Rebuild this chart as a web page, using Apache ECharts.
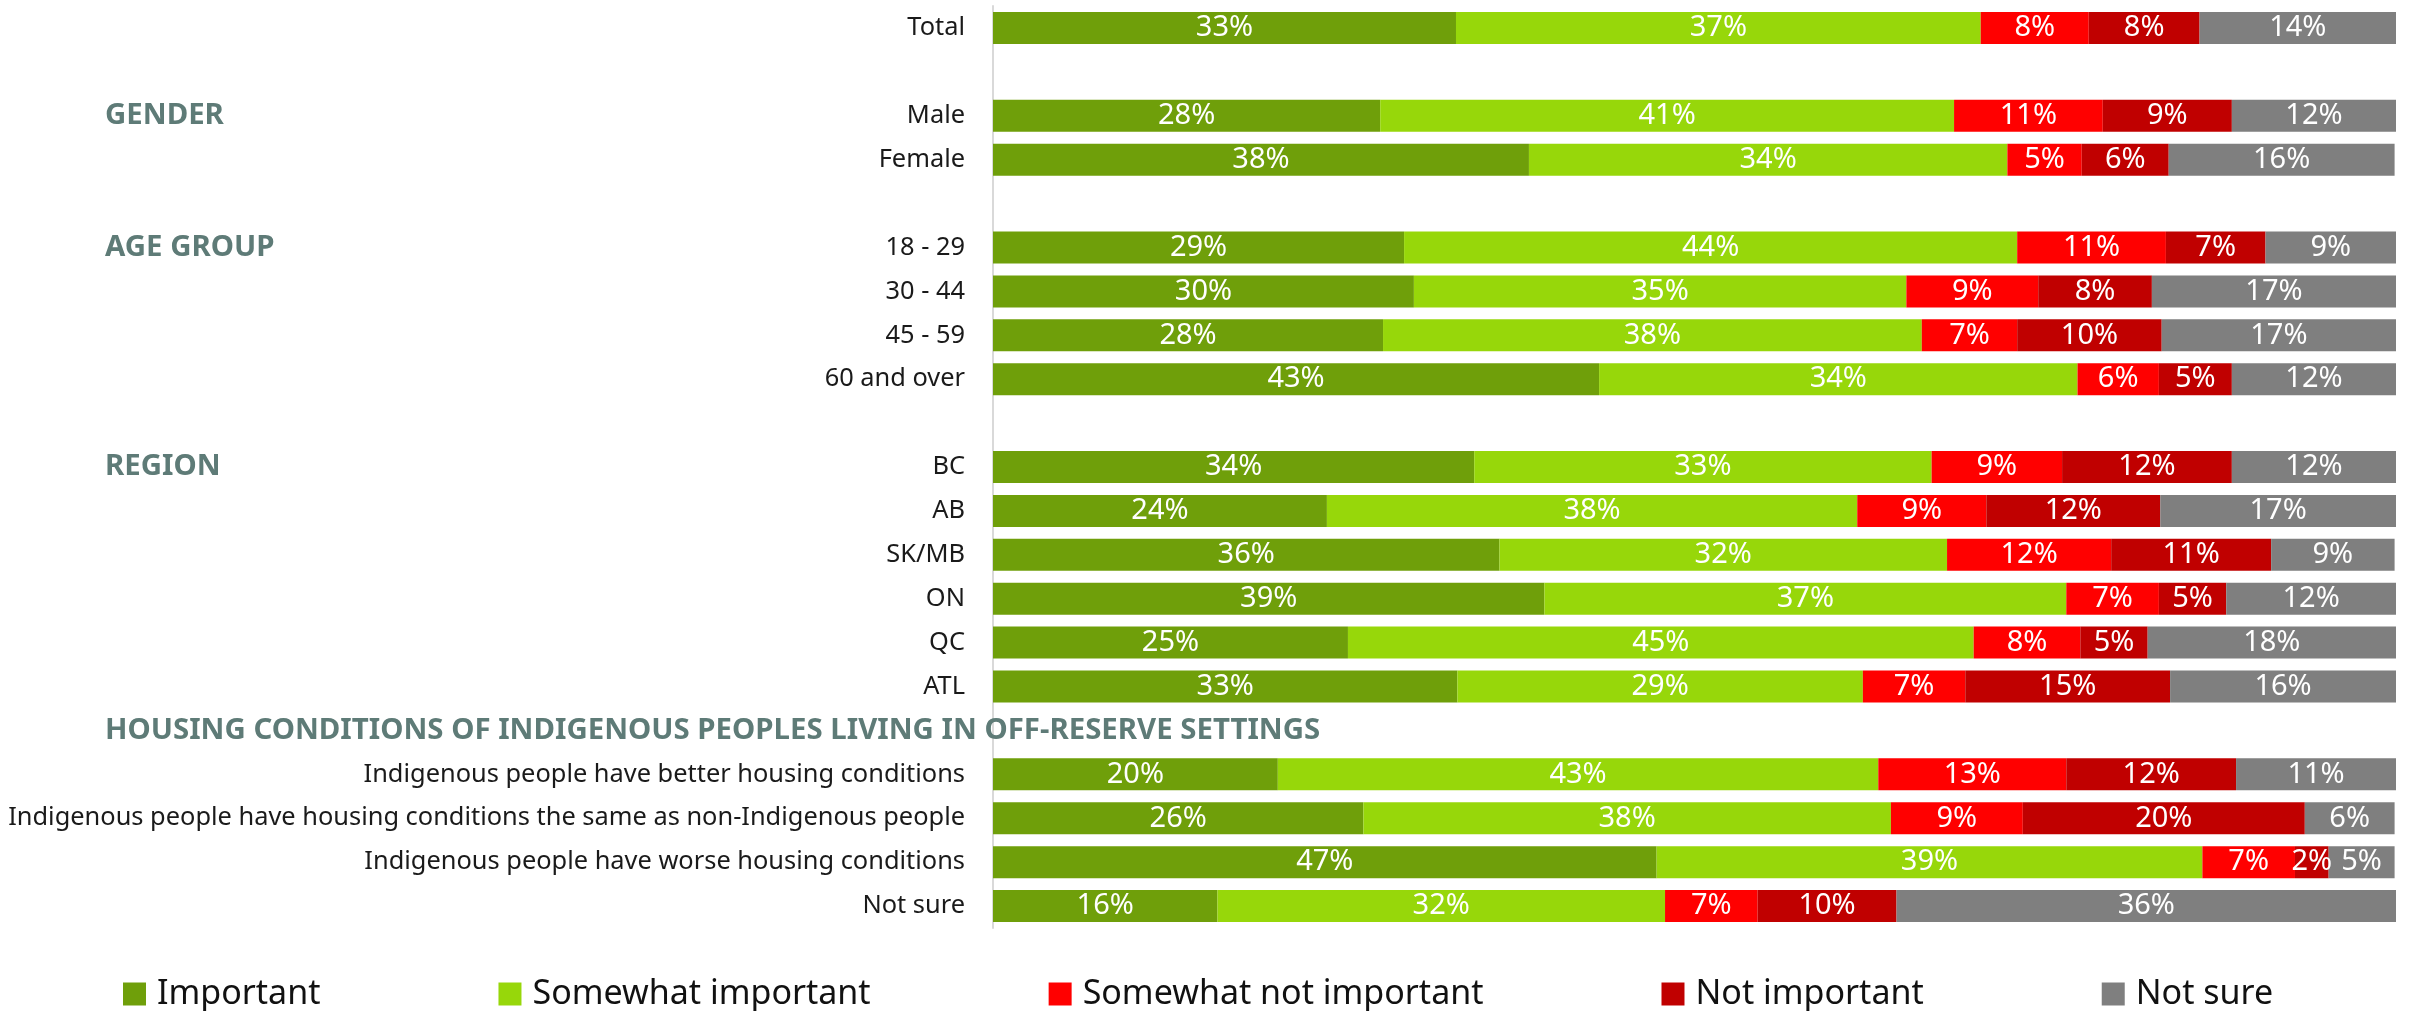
<!DOCTYPE html>
<html>
<head>
<meta charset="utf-8">
<script src="https://cdn.jsdelivr.net/npm/echarts@6/dist/echarts.min.js"></script>
<style>
html,body{margin:0;padding:0;background:#fff;}
#chart{width:2410px;height:1011px;}
</style>
</head>
<body>
<div id="chart"></div>
<script>
// Row labels ('' = spacer row)
const categories = ['Total', '', 'Male', 'Female', '', '18 - 29', '30 - 44', '45 - 59', '60 and over', '',
  'BC', 'AB', 'SK/MB', 'ON', 'QC', 'ATL', '',
  'Indigenous people have better housing conditions',
  'Indigenous people have housing conditions the same as non-Indigenous people',
  'Indigenous people have worse housing conditions',
  'Not sure'];
// Section headings, aligned to the rows above
const sectionHeaders = ['', '', 'GENDER', '', '', 'AGE GROUP', '', '', '', '',
  'REGION', '', '', '', '', '', 'HOUSING CONDITIONS OF INDIGENOUS PEOPLES LIVING IN OFF-RESERVE SETTINGS',
  '', '', '', ''];
const seriesNames = ['Important', 'Somewhat important', 'Somewhat not important', 'Not important', 'Not sure'];
// values in %, one per non-spacer row, in order
const important            = [33.0, 27.6, 38.2, 29.3, 30.0, 27.8, 43.2, 34.3, 23.8, 36.1, 39.3, 25.3, 33.1, 20.3, 26.4, 47.3, 16.0];
const somewhatImportant    = [37.4, 40.9, 34.1, 43.7, 35.1, 38.4, 34.1, 32.6, 37.8, 31.9, 37.2, 44.6, 28.9, 42.8, 37.6, 38.9, 31.9];
const somewhatNotImportant = [7.7, 10.6, 5.3, 10.6, 9.4, 6.8, 5.8, 9.3, 9.2, 11.7, 6.6, 7.6, 7.3, 13.4, 9.4, 6.6, 6.6];
const notImportant         = [7.9, 9.2, 6.2, 7.1, 8.1, 10.3, 5.2, 12.1, 12.4, 11.4, 4.8, 4.8, 14.6, 12.1, 20.1, 2.4, 9.9];
const notSure              = [14.0, 11.7, 16.1, 9.3, 17.4, 16.7, 11.7, 11.7, 16.8, 8.8, 12.1, 17.7, 16.1, 11.4, 6.4, 4.7, 35.6];

const colors = ['#6f9f0a', '#97d70a', '#ff0000', '#c00000', '#7f7f7f'];
const allValues = [important, somewhatImportant, somewhatNotImportant, notImportant, notSure];

function spread(vals) {
  let k = 0;
  return categories.map(c => c === '' ? null : vals[k++]);
}

const FONT = "'Noto Sans', 'Open Sans', sans-serif";
const chart = echarts.init(document.getElementById('chart'), null, {renderer: 'canvas'});
chart.setOption({
  animation: false,
  textStyle: {fontFamily: FONT},
  grid: {left: 993, right: 14, top: 6, height: 922, containLabel: false},
  xAxis: {type: 'value', min: 0, max: 100, show: false},
  yAxis: [{
    type: 'category', inverse: true, data: categories,
    axisLine: {show: true, lineStyle: {color: '#d9d9d9', width: 2}},
    axisTick: {show: false},
    axisLabel: {interval: 0, margin: 28, color: '#1a1a1a', fontSize: 25.4, fontFamily: FONT}
  }, {
    type: 'category', inverse: true, data: sectionHeaders, position: 'left',
    axisLine: {show: false}, axisTick: {show: false}, splitLine: {show: false},
    axisLabel: {interval: 0, align: 'left', margin: 888, color: '#5e7b77', fontSize: 29.4, fontWeight: 'bold', fontFamily: FONT}
  }],
  legend: {
    data: seriesNames, left: 118, top: 972, itemGap: 178,
    itemWidth: 23, itemHeight: 23, icon: 'rect',
    textStyle: {fontSize: 34, color: '#111', fontFamily: FONT, padding: [0, 0, 0, 6]}
  },
  series: seriesNames.map((name, i) => ({
    name, type: 'bar', stack: 'total', yAxisIndex: 0,
    barWidth: 32,
    itemStyle: {color: colors[i]},
    label: {
      show: true, position: 'inside', color: '#fff', fontSize: 29, fontFamily: FONT,
      formatter: p => (p.value == null ? '' : Math.round(p.value) + '%')
    },
    data: spread(allValues[i])
  }))
});
</script>
</body>
</html>
